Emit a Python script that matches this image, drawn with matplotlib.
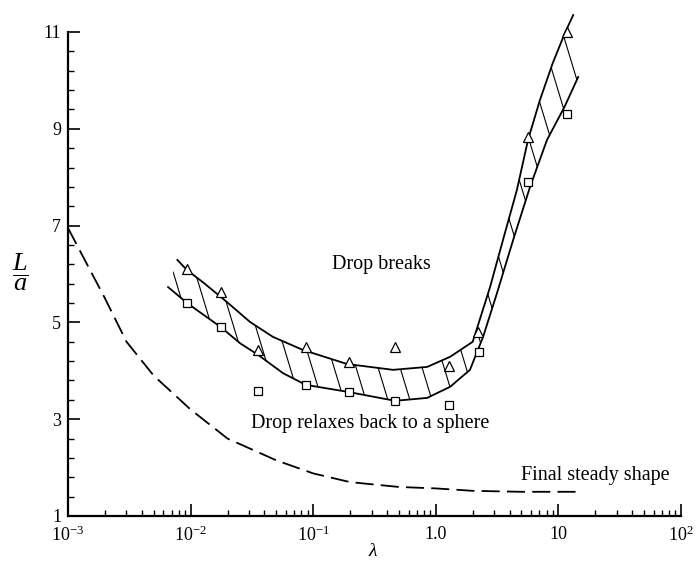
import numpy as np
import matplotlib
matplotlib.use('Agg')
import matplotlib.pyplot as plt
from matplotlib.ticker import FixedLocator, FixedFormatter, LogLocator, NullFormatter
from matplotlib.patches import Polygon
from matplotlib.collections import LineCollection

# measured points (lambda, L/a)
tri_lam = [0.0094, 0.0177, 0.0355, 0.087, 0.196, 0.465, 1.28, 2.2, 5.6, 11.8]
tri_L = [6.10, 5.63, 4.43, 4.49, 4.18, 4.49, 4.10, 4.80, 8.83, 11.0]
sq_lam = [0.0094, 0.0177, 0.0355, 0.087, 0.196, 0.465, 1.28, 2.25, 5.6, 11.8]
sq_L = [5.40, 4.90, 3.58, 3.71, 3.56, 3.38, 3.29, 4.39, 7.90, 9.31]

# upper / lower boundary of the hatched band
upper_lam = [0.0078, 0.00935, 0.0126, 0.0198, 0.0305, 0.047, 0.0826, 0.189, 0.448,
             0.85, 1.31, 2.0, 2.17, 2.77, 3.53, 4.59, 5.65, 7.08, 9.0, 11.3, 13.2]
upper_L = [6.29, 6.08, 5.83, 5.42, 5.01, 4.70, 4.43, 4.14, 4.02,
           4.08, 4.29, 4.60, 4.88, 5.73, 6.70, 7.74, 8.77, 9.60, 10.36, 10.98, 11.35]
lower_lam = [0.00655, 0.00935, 0.0177, 0.0253, 0.0355, 0.0568, 0.087, 0.196, 0.465,
             0.85, 1.31, 1.90, 2.43, 3.16, 4.27, 5.87, 8.07, 11.2, 14.5]
lower_L = [5.73, 5.40, 4.90, 4.57, 4.33, 3.95, 3.71, 3.56, 3.38,
           3.44, 3.67, 4.02, 4.70, 5.61, 6.70, 7.80, 8.77, 9.45, 10.07]

# final steady shape (dashed)
steady_lam = [0.001, 0.0015, 0.002, 0.003, 0.005, 0.01, 0.02, 0.05, 0.1, 0.2, 0.5, 1.0, 2.0, 5.0, 14]
steady_L = [6.95, 6.1, 5.5, 4.6, 3.9, 3.2, 2.6, 2.15, 1.88, 1.70, 1.60, 1.57, 1.52, 1.50, 1.50]

xticks = [1e-3, 1e-2, 1e-1, 1.0, 10, 100]
xtick_labels = [r'$10^{-3}$', r'$10^{-2}$', r'$10^{-1}$', '1.0', '10', r'$10^{2}$']
yticks = [1, 3, 5, 7, 9, 11]

plt.rcParams['font.family'] = ['Liberation Serif', 'DejaVu Serif']
plt.rcParams['mathtext.fontset'] = 'custom'
plt.rcParams['mathtext.rm'] = 'Liberation Serif'
plt.rcParams['mathtext.it'] = 'Liberation Serif:italic'
plt.rcParams['mathtext.bf'] = 'Liberation Serif:bold'

W, H = 699, 565
fig = plt.figure(figsize=(W / 100, H / 100), dpi=100)
ax = fig.add_axes([68 / W, 1 - 516 / H, 613 / W, 484 / H])

ax.set_xscale('log')
ax.set_xlim(1e-3, 1e2)
ax.set_ylim(1, 11)

for s in ['top', 'right']:
    ax.spines[s].set_visible(False)
for s in ['left', 'bottom']:
    ax.spines[s].set_linewidth(1.6)

ax.xaxis.set_major_locator(FixedLocator(xticks))
ax.xaxis.set_major_formatter(FixedFormatter(xtick_labels))
ax.xaxis.set_minor_locator(LogLocator(base=10, subs=np.arange(2, 10)))
ax.xaxis.set_minor_formatter(NullFormatter())
ax.yaxis.set_major_locator(FixedLocator(yticks))
ax.yaxis.set_minor_locator(FixedLocator(np.arange(1, 11.01, 0.4)))

ax.tick_params(which='major', direction='in', length=8.5, width=1.2, labelsize=13, pad=7)
ax.tick_params(which='minor', direction='in', length=4, width=1.0)
ax.tick_params(axis='y', which='major', pad=5)

# band boundaries
ax.plot(upper_lam, upper_L, color='black', lw=1.3, clip_on=False)
ax.plot(lower_lam, lower_L, color='black', lw=1.3, clip_on=False)

# hatching inside the band: steep parallel lines clipped to the band
band = Polygon(list(zip(upper_lam, upper_L)) + list(zip(lower_lam, lower_L))[::-1],
               closed=True, facecolor='none', edgecolor='none', transform=ax.transData)
ax.add_patch(band)
w_px = 613.0
h_px = 484.0
k = 3.3 * w_px / h_px
step = 22.0 / w_px
segs = [[(c, 0), (c - 1 / k, 1)] for c in np.arange(0.005, 1 + 1 / k, step)]
hatch = LineCollection(segs, colors='black', linewidths=0.8, transform=ax.transAxes)
ax.add_collection(hatch)
hatch.set_clip_path(band)

# data points
ax.plot(tri_lam, tri_L, linestyle='none', marker='^', markersize=7, markerfacecolor='white',
        markeredgecolor='black', markeredgewidth=0.9, clip_on=False, zorder=3)
ax.plot(sq_lam, sq_L, linestyle='none', marker='s', markersize=6, markerfacecolor='white',
        markeredgecolor='black', markeredgewidth=0.9, clip_on=False, zorder=3)

# final steady shape
ax.plot(steady_lam, steady_L, color='black', lw=1.3, linestyle=(0, (10, 4)))

ax.text(0.36, 6.2, 'Drop breaks', fontsize=14.5, ha='center', va='center')
ax.text(0.29, 2.92, 'Drop relaxes back to a sphere', fontsize=14.5, ha='center', va='center')
ax.text(20, 1.83, 'Final steady shape', fontsize=14.5, ha='center', va='center')

fig.text(20 / W, 1 - 272 / H, r'$\dfrac{L}{a}$', fontsize=19, ha='center', va='center')
fig.text(373 / W, 1 - 552 / H, r'$\lambda$', fontsize=14, ha='center', va='center')

fig.savefig('out.png', dpi=100)
